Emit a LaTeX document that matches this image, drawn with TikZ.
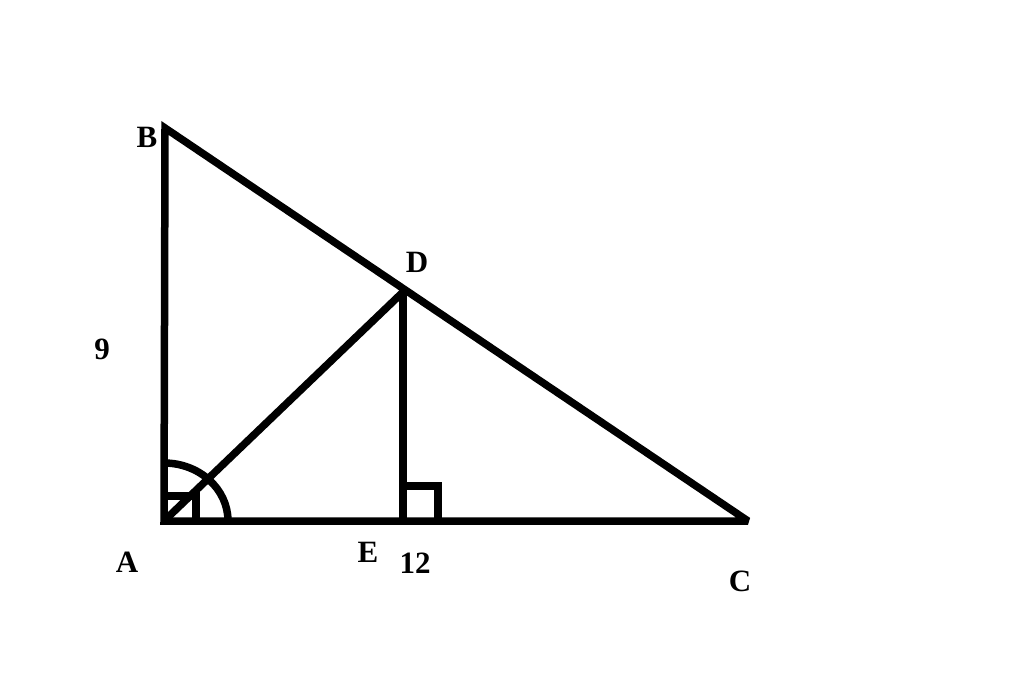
\documentclass[tikz,border=0pt]{standalone}
\usepackage{fontspec}
\setmainfont{Liberation Serif}
\begin{document}
\begin{tikzpicture}[x=1pt,y=-1pt,
  seg/.style={line width=7.5pt},
  lbl/.style={font=\fontsize{31}{31}\selectfont\bfseries, inner sep=0pt}]
\useasboundingbox (0,0) rectangle (1024,696);
\fill[white] (0,0) rectangle (1024,696);
\coordinate (A) at (164,521);
\coordinate (B) at (165,128);
\coordinate (C) at (748,521);
\coordinate (D) at (403,292);
\coordinate (E) at (403,521);
\draw[seg, line join=miter, miter limit=2.5] (A) -- (B) -- (C) -- cycle;
\draw[seg] (A) -- (D);
\draw[seg] (D) -- (E);
% right angle marks
\draw[seg] (E) ++(0,-35) -- ++(35,0) -- ++(0,35);
\draw[seg] (A) ++(0,-25) -- ++(32,0) -- ++(0,25);
% angle arc at A
\draw[seg] (A) ++(0,-58) arc[start angle=90, end angle=0, x radius=64, y radius=-58];
% labels
\node[lbl] (lB) at (147,137) {B};
\node[lbl] (lD) at (417,262) {D};
\node[lbl] (l9) at (102,349) {9};
\node[lbl] (lA) at (127,562) {A};
\node[lbl] (lE) at (368,552) {E};
\node[lbl] (l12) at (415,563) {12};
\node[lbl] (lC) at (740,581) {C};
\end{tikzpicture}
\end{document}
